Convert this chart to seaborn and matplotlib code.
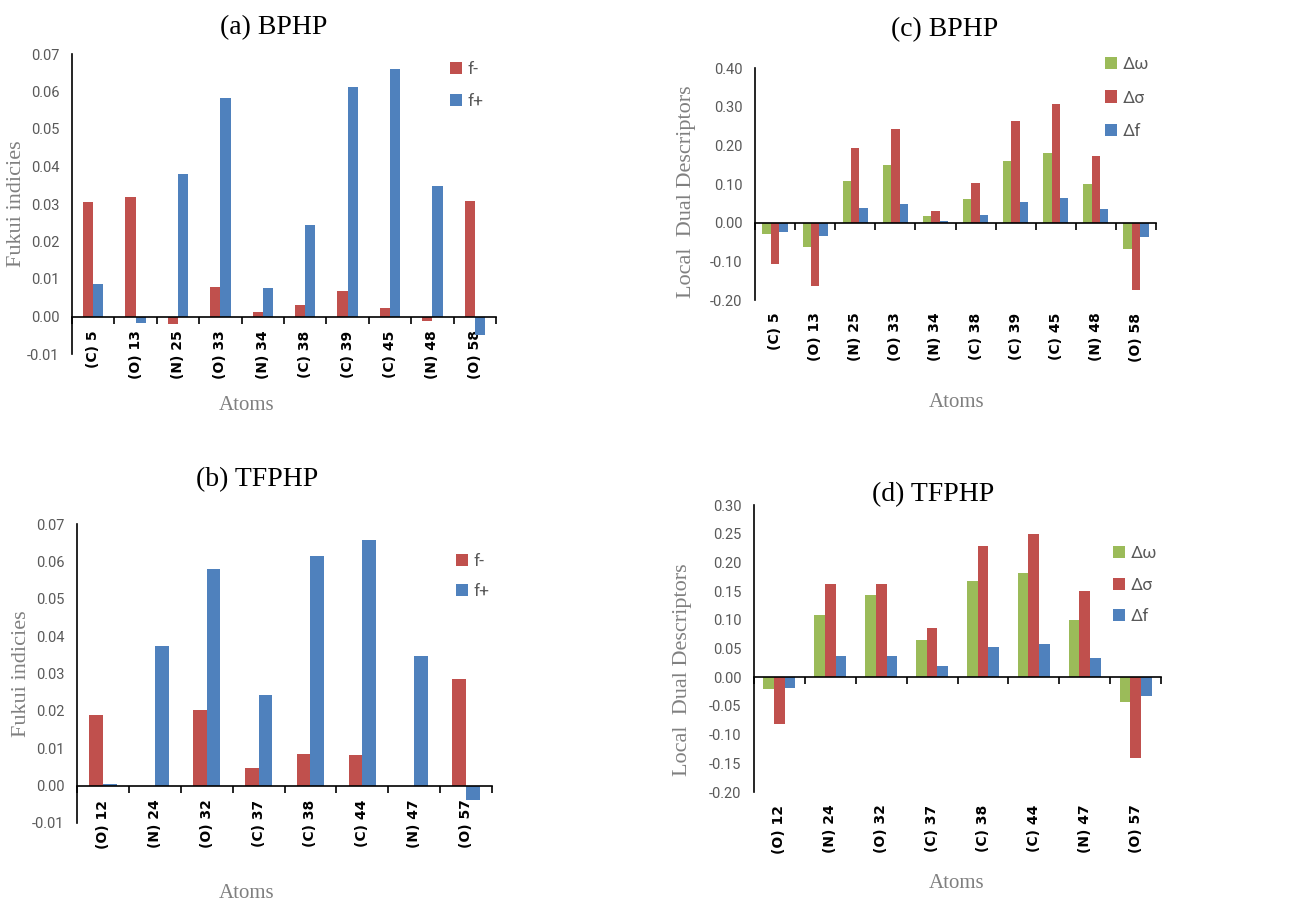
import numpy as np
import pandas as pd
import matplotlib
matplotlib.use("Agg")
import matplotlib.pyplot as plt
import seaborn as sns
from matplotlib.patches import Patch
from matplotlib.ticker import FixedLocator

# ---------------- data ----------------
atoms_bphp = ["(C) 5", "(O) 13", "(N) 25", "(O) 33", "(N) 34",
              "(C) 38", "(C) 39", "(C) 45", "(N) 48", "(O) 58"]
fminus_bphp = [0.0306, 0.0320, -0.0021, 0.0080, 0.0013, 0.0031, 0.0067, 0.0023, -0.0013, 0.0308]
fplus_bphp = [0.0087, -0.0017, 0.0379, 0.0584, 0.0077, 0.0244, 0.0612, 0.0660, 0.0348, -0.0049]

atoms_tfphp = ["(O) 12", "(N) 24", "(O) 32", "(C) 37", "(C) 38", "(C) 44", "(N) 47", "(O) 57"]
fminus_tfphp = [0.0190, 0.0, 0.0203, 0.0047, 0.0084, 0.0082, 0.0, 0.0284]
fplus_tfphp = [0.0004, 0.0374, 0.0579, 0.0243, 0.0615, 0.0658, 0.0347, -0.0038]

dw_bphp = [-0.030, -0.062, 0.109, 0.149, 0.017, 0.062, 0.160, 0.181, 0.099, -0.069]
ds_bphp = [-0.108, -0.164, 0.192, 0.242, 0.029, 0.102, 0.262, 0.306, 0.173, -0.175]
df_bphp = [-0.023, -0.035, 0.039, 0.049, 0.005, 0.020, 0.054, 0.063, 0.035, -0.037]

dw_tfphp = [-0.020, 0.108, 0.144, 0.065, 0.167, 0.181, 0.100, -0.043]
ds_tfphp = [-0.081, 0.162, 0.163, 0.085, 0.229, 0.250, 0.150, -0.140]
df_tfphp = [-0.019, 0.037, 0.037, 0.019, 0.053, 0.058, 0.034, -0.032]

fukui_names = ["f-", "f+"]
dual_names = ["Δω", "Δσ", "Δf"]

yticks_fukui = [-0.01, 0.00, 0.01, 0.02, 0.03, 0.04, 0.05, 0.06, 0.07]
yticks_c = [-0.20, -0.10, 0.00, 0.10, 0.20, 0.30, 0.40]
yticks_d = [-0.20, -0.15, -0.10, -0.05, 0.00, 0.05, 0.10, 0.15, 0.20, 0.25, 0.30]

titles = ["(a) BPHP", "(b) TFPHP", "(c) BPHP", "(d) TFPHP"]

RED, BLUE, GREEN = "#C0504D", "#4F81BD", "#9BBB59"
GRAY_TXT = "#595959"
GRAY_LBL = "#808080"

sns.set_style("white")
plt.rcParams["font.family"] = ["Roboto", "DejaVu Sans"]

W, H = 1293, 901
fig = plt.figure(figsize=(W / 100, H / 100), dpi=100)


def px_axes(l, t, r, b):
    return fig.add_axes([l / W, 1 - b / H, (r - l) / W, (b - t) / H])


def panel(ax, atoms, series, names, colors, width, ylim, yticks, labels_at_zero):
    rows = []
    for nm, vals in zip(names, series):
        for a, v in zip(atoms, vals):
            rows.append({"atom": a, "series": nm, "value": v})
    d = pd.DataFrame(rows)
    sns.barplot(data=d, x="atom", y="value", hue="series", order=atoms,
                hue_order=names, palette=colors, width=width, saturation=1,
                errorbar=None, legend=False, ax=ax, linewidth=0)
    n = len(atoms)
    ax.set_xlim(-0.5, n - 0.5)
    ax.set_ylim(*ylim)
    ax.set_yticks(yticks)
    ax.set_yticklabels([f"{v:.2f}" for v in yticks])
    ax.set_xlabel("")
    ax.set_ylabel("")
    for s in ["top", "right"]:
        ax.spines[s].set_visible(False)
    ax.spines["left"].set_color("black")
    ax.spines["left"].set_linewidth(1.2)
    ax.spines["bottom"].set_position(("data", 0))
    ax.spines["bottom"].set_color("black")
    ax.spines["bottom"].set_linewidth(1.2)
    ax.tick_params(axis="y", length=0, labelsize=10.5, labelcolor=GRAY_TXT, pad=9)
    ax.xaxis.set_minor_locator(FixedLocator(np.arange(n + 1) - 0.5))
    ax.tick_params(axis="x", which="minor", length=5, width=1.2, color="black",
                   direction="out", bottom=True)
    ax.set_xticks(range(n))
    if labels_at_zero:
        ax.set_xticklabels(atoms, rotation=90, fontsize=10, fontweight="bold",
                           family="DejaVu Sans", color="black")
        ax.tick_params(axis="x", which="major", length=0, pad=10)
    else:
        ax.tick_params(axis="x", which="major", length=0, labelbottom=False)
        sec = ax.secondary_xaxis("bottom")
        sec.set_xticks(range(n))
        sec.set_xticklabels(atoms, rotation=90, fontsize=10, fontweight="bold",
                            family="DejaVu Sans", color="black")
        sec.tick_params(length=0, pad=9)
        sec.spines["bottom"].set_visible(False)


ax_a = px_axes(72, 54, 496, 354)
panel(ax_a, atoms_bphp, [fminus_bphp, fplus_bphp], fukui_names, [RED, BLUE],
      0.48, (-0.01, 0.07), yticks_fukui, True)
ax_b = px_axes(77, 524, 492, 823)
panel(ax_b, atoms_tfphp, [fminus_tfphp, fplus_tfphp], fukui_names, [RED, BLUE],
      0.53, (-0.01, 0.07), yticks_fukui, True)
ax_c = px_axes(755, 68, 1156, 300)
panel(ax_c, atoms_bphp, [dw_bphp, ds_bphp, df_bphp], dual_names, [GREEN, RED, BLUE],
      0.63, (-0.20, 0.40), yticks_c, False)
ax_d = px_axes(754, 505, 1161, 792)
panel(ax_d, atoms_tfphp, [dw_tfphp, ds_tfphp, df_tfphp], dual_names, [GREEN, RED, BLUE],
      0.63, (-0.20, 0.30), yticks_d, False)


def ftext(x, y, s, **kw):
    fig.text(x / W, 1 - y / H, s, ha="center", va="center", **kw)


serif = ["Liberation Serif", "DejaVu Serif"]
for (x, y), t in zip([(274, 28), (257, 480), (945, 30), (933, 495)], titles):
    ftext(x, y, t, fontsize=20, family=serif, color="black")
for (x, y) in [(247, 405), (247, 893), (957, 402), (957, 883)]:
    ftext(x, y, "Atoms", fontsize=15, family=serif, color=GRAY_LBL)
ftext(17, 204, "Fukui indicies", fontsize=16, family=serif, color=GRAY_LBL, rotation=90)
ftext(22, 674, "Fukui indicies", fontsize=16, family=serif, color=GRAY_LBL, rotation=90)
ftext(687, 192, "Local  Dual Descriptors", fontsize=16, family=serif, color=GRAY_LBL, rotation=90)
ftext(683, 670, "Local  Dual Descriptors", fontsize=16, family=serif, color=GRAY_LBL, rotation=90)


def legend(names, colors, x, y, spacing):
    handles = [Patch(facecolor=c, edgecolor="none") for c in colors]
    fig.legend(handles, names, loc="upper left", bbox_to_anchor=(x / W, 1 - y / H),
               frameon=False, borderpad=0, borderaxespad=0, handlelength=0.7,
               handleheight=0.7, handletextpad=0.3, labelspacing=spacing,
               prop={"family": ["Roboto", "DejaVu Sans"], "size": 12.5},
               labelcolor=GRAY_TXT)


legend(fukui_names, [RED, BLUE], 450, 62, 0.95)
legend(fukui_names, [RED, BLUE], 456, 554, 0.85)
legend(dual_names, [GREEN, RED, BLUE], 1105, 57, 1.05)
legend(dual_names, [GREEN, RED, BLUE], 1113, 546, 0.95)

fig.savefig("out.png", dpi=100, facecolor="white")
